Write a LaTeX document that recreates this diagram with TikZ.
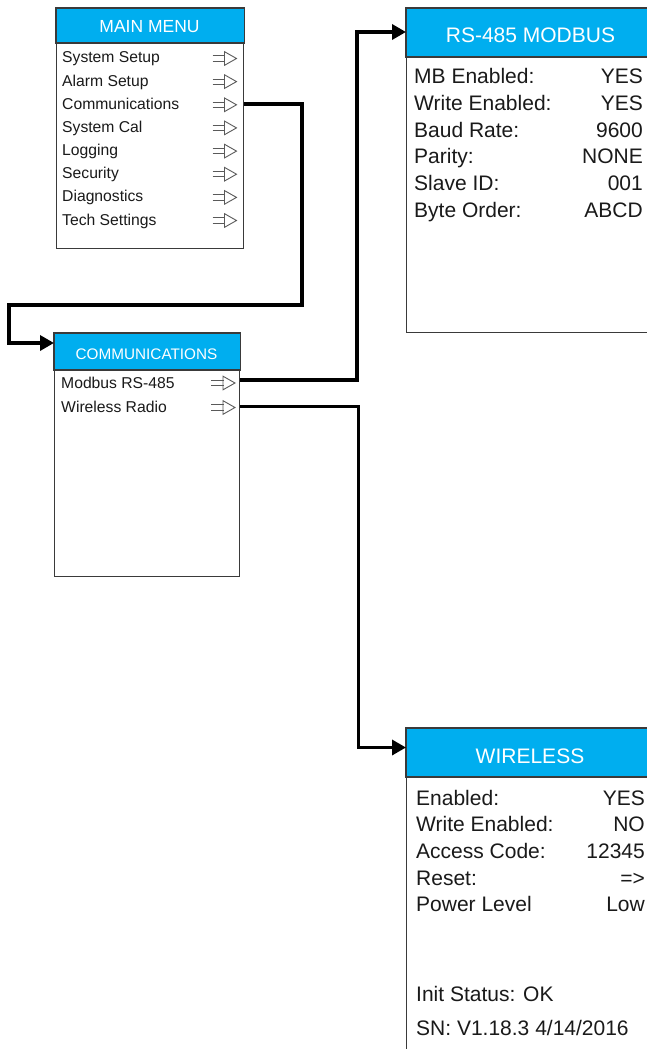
\documentclass[tikz,border=0pt]{standalone}
\usepackage{fontspec}
\setmainfont{Liberation Sans}
\usetikzlibrary{arrows.meta,calc}
\definecolor{hdr}{HTML}{00AEEF}
\definecolor{txt}{HTML}{1A1A1A}
\definecolor{frm}{HTML}{3A3A3A}
\definecolor{sym}{HTML}{5A5A5A}
\begin{document}
\begin{tikzpicture}[x=1pt,y=-1pt,
  panel/.style={draw=frm, line width=1.2pt, fill=white, anchor=north west, inner sep=0pt},
  hdrbox/.style={draw=frm, line width=1.2pt, fill=hdr},
  ttl/.style={text=white, inner sep=0pt, anchor=base},
  item/.style={text=txt, inner sep=0pt, anchor=base west, font=\fontsize{15.7}{18}\selectfont},
  bigitem/.style={text=txt, inner sep=0pt, anchor=base west, font=\fontsize{21}{24}\selectfont},
  bigval/.style={text=txt, inner sep=0pt, anchor=base east, font=\fontsize{21}{24}\selectfont},
  conn/.style={line width=3.4pt, line join=miter, -{Triangle[length=14pt,width=15pt]}},
  menuarrow/.pic={
    \draw[sym, line width=0.9pt] (-24,-2.6) -- (-11.5,-2.6) (-24,2.6) -- (-11.5,2.6);
    \draw[sym, line width=0.9pt, line join=miter] (-12,-6.8) -- (0,0) -- (-12,6.8) -- cycle;
  }]
\useasboundingbox (0,0) rectangle (647,1049);
\clip (0,0) rectangle (647,1049);

% ---------- MAIN MENU ----------
\node[panel, minimum width=187pt, minimum height=240pt] (mm) at (56,8) {};
\draw[hdrbox] (mm.north west) rectangle ($(mm.north east)+(0,35)$);
\node[ttl, font=\fontsize{17.5}{20}\selectfont] (mmt) at (149.5,33) {MAIN MENU};
\node[item] (m1) at (62,63) {System Setup};
\node[item] (m2) at (62,86.1) {Alarm Setup};
\node[item] (m3) at (62,109.3) {Communications};
\node[item] (m4) at (62,132.4) {System Cal};
\node[item] (m5) at (62,155.6) {Logging};
\node[item] (m6) at (62,178.7) {Security};
\node[item] (m7) at (62,201.9) {Diagnostics};
\node[item] (m8) at (62,225) {Tech Settings};
\foreach \y in {63,86.1,109.3,132.4,155.6,178.7,201.9,225}
  \pic at (236.5,\y-4.5) {menuarrow};

% ---------- COMMUNICATIONS ----------
\node[panel, minimum width=185pt, minimum height=243pt] (cm) at (54,333) {};
\draw[hdrbox] (cm.north west) rectangle ($(cm.north east)+(0,37)$);
\node[ttl, font=\fontsize{15.3}{18}\selectfont] (cmt) at (146.5,359) {COMMUNICATIONS};
\node[item] (c1) at (61,388.3) {Modbus RS-485};
\node[item] (c2) at (61,412.7) {Wireless Radio};
\pic at (235,383) {menuarrow};
\pic at (235,407.5) {menuarrow};

% ---------- RS-485 MODBUS ----------
\node[panel, minimum width=250pt, minimum height=324pt] (rs) at (406,8) {};
\draw[hdrbox] (rs.north west) rectangle ($(rs.north east)+(0,49)$);
\node[ttl, font=\fontsize{21}{24}\selectfont] (rst) at (530.5,43) {RS-485 MODBUS};
\node[bigitem] (r1) at (414,84) {MB Enabled:};
\node[bigitem] (r2) at (414,110.6) {Write Enabled:};
\node[bigitem] (r3) at (414,137.2) {Baud Rate:};
\node[bigitem] (r4) at (414,163.8) {Parity:};
\node[bigitem] (r5) at (414,190.4) {Slave ID:};
\node[bigitem] (r6) at (414,217) {Byte Order:};
\node[bigval] (rv1) at (643,84) {YES};
\node[bigval] (rv2) at (643,110.6) {YES};
\node[bigval] (rv3) at (643,137.2) {9600};
\node[bigval] (rv4) at (643,163.8) {NONE};
\node[bigval] (rv5) at (643,190.4) {001};
\node[bigval] (rv6) at (643,217) {ABCD};

% ---------- WIRELESS ----------
\node[panel, minimum width=250pt, minimum height=340pt] (wl) at (406,728) {};
\draw[hdrbox] (wl.north west) rectangle ($(wl.north east)+(0,49)$);
\node[ttl, font=\fontsize{21}{24}\selectfont] (wlt) at (530,763) {WIRELESS};
\node[bigitem] (w1) at (416,805) {Enabled:};
\node[bigitem] (w2) at (416,831.7) {Write Enabled:};
\node[bigitem] (w3) at (416,858.4) {Access Code:};
\node[bigitem] (w4) at (416,885.1) {Reset:};
\node[bigitem] (w5) at (416,911.8) {Power Level};
\node[bigval] (wv1) at (645,805) {YES};
\node[bigval] (wv2) at (645,831.7) {NO};
\node[bigval] (wv3) at (645,858.4) {12345};
\node[bigval] (wv4) at (645,885.1) {=>};
\node[bigval] (wv5) at (645,911.8) {Low};
\node[bigitem] (w6) at (416,1001.7) {Init Status: OK};
\node[bigitem] (w7) at (416,1035) {SN: V1.18.3 4/14/2016};

% ---------- CONNECTORS ----------
\draw[conn] (mm.east |- 0,104) -- (302,104) -- (302,305) -- (9,305) -- (9,343) -- (cm.west |- 0,343);
\draw[conn] (cm.east |- 0,380) -- (357,380) -- (357,32) -- (rs.west |- 0,32);
\draw[conn] (cm.east |- 0,406.5) -- (358.5,406.5) -- (358.5,747.5) -- (wl.west |- 0,747.5);
\end{tikzpicture}
\end{document}
